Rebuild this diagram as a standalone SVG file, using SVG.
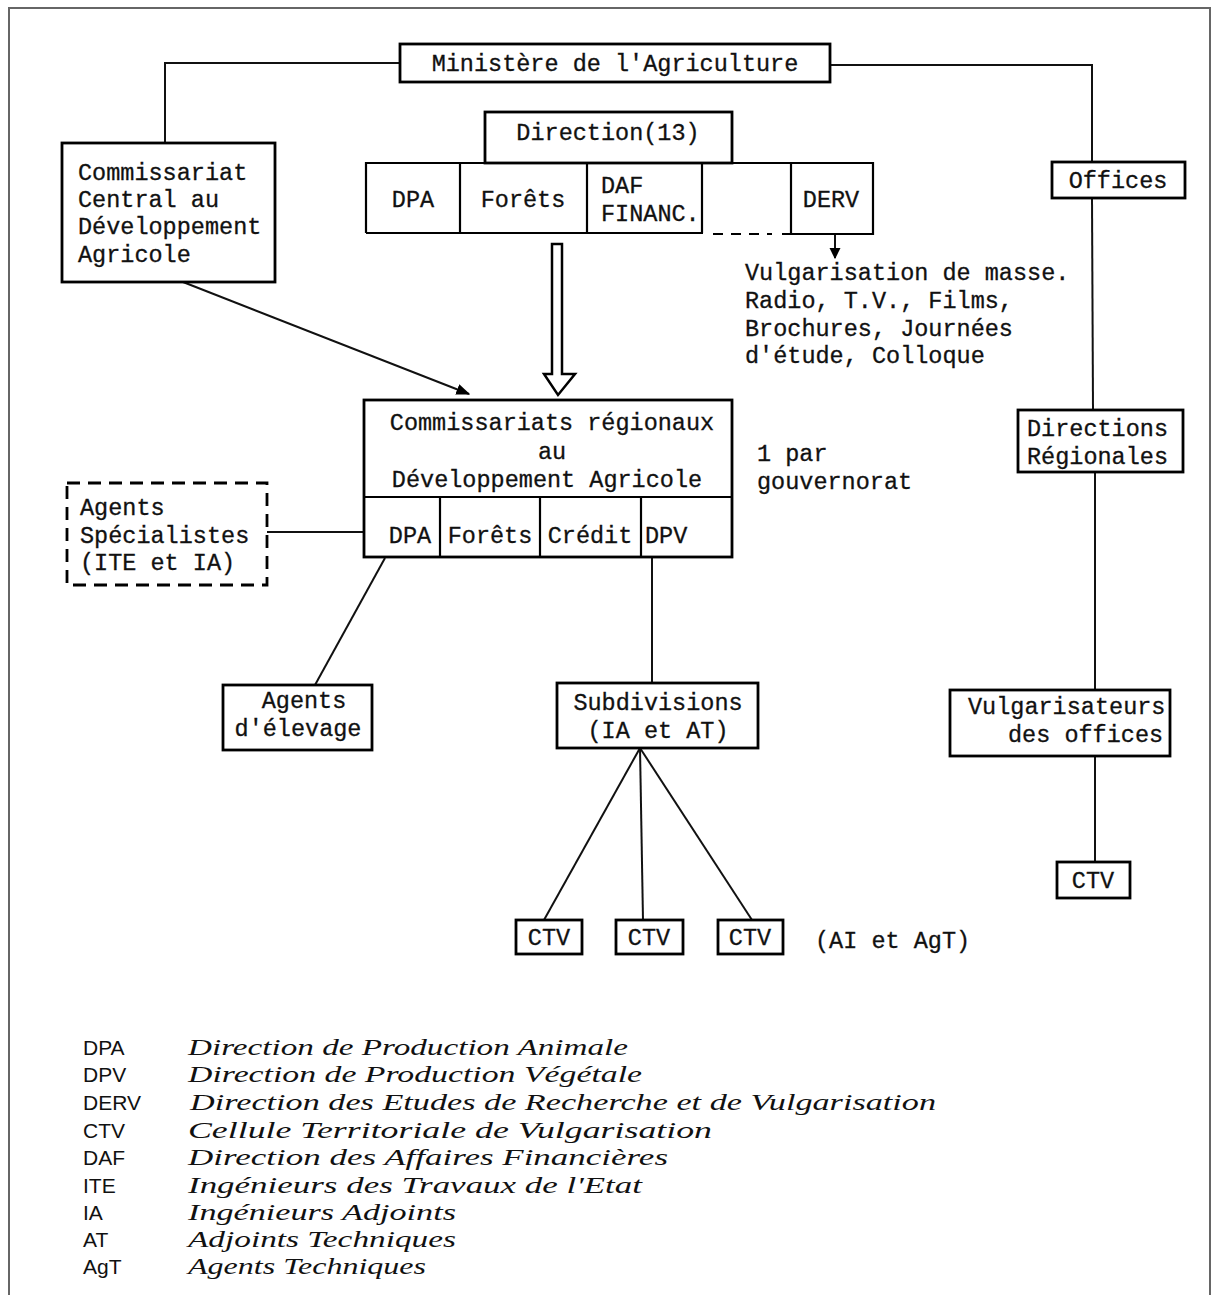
<svg xmlns="http://www.w3.org/2000/svg" width="1217" height="1295" viewBox="0 0 1217 1295">
<defs>
<marker id="ah" viewBox="0 0 10 10" refX="9" refY="5" markerWidth="11" markerHeight="12" orient="auto" markerUnits="userSpaceOnUse">
<path d="M0,0 L10,5 L0,10 z" fill="#000"/>
</marker>
<marker id="ah2" viewBox="0 0 10 10" refX="9" refY="5" markerWidth="14" markerHeight="14" orient="auto" markerUnits="userSpaceOnUse">
<path d="M0,1 L10,5 L0,9 z" fill="#000"/>
</marker>
</defs>
<style>
.box{fill:#fff;stroke:#000;stroke-width:2.8}
.div{stroke:#000;stroke-width:2.2;fill:none}
.ln{stroke:#111;stroke-width:2;fill:none}
.t{font-family:"Liberation Mono","DejaVu Sans Mono",monospace;font-size:23.5px;fill:#111;stroke:#111;stroke-width:0.3}
.c{text-anchor:middle}
.ab{font-family:"Liberation Sans","DejaVu Sans",sans-serif;font-size:21px;fill:#111}
.ds{font-family:"Liberation Serif","DejaVu Serif",serif;font-style:italic;font-size:24px;fill:#111}
</style>
<rect width="1217" height="1295" fill="#fff"/>
<path d="M9,1300 L9,8 L1210,8 L1210,1300" fill="none" stroke="#666" stroke-width="2"/>

<g id="connectors">
<path class="ln" d="M400,63 L165,63 L165,143"/>
<path class="ln" d="M830,65 L1092,65 L1092,162"/>
<path class="ln" d="M1092,198 L1093,410"/>
<path class="ln" d="M1095,472 L1095,690"/>
<path class="ln" d="M1095,756 L1095,862"/>
<line class="ln" x1="183" y1="282" x2="469" y2="394" marker-end="url(#ah2)" stroke-width="2.5"/>
<path d="M552,244 L562,244 L562,374 L575,374 L558,395 L544,374 L552,374 Z" fill="#fff" stroke="#000" stroke-width="2.5"/>
<line class="ln" x1="835" y1="234" x2="835" y2="258" marker-end="url(#ah)" stroke-width="2.5"/>
<line class="ln" x1="267" y1="532" x2="363" y2="532"/>
<line class="ln" x1="385" y1="558" x2="315" y2="685"/>
<line class="ln" x1="652" y1="558" x2="652" y2="683"/>
<line class="ln" x1="640" y1="748" x2="544" y2="920"/>
<line class="ln" x1="640" y1="748" x2="643" y2="920"/>
<line class="ln" x1="640" y1="748" x2="752" y2="920"/>
</g>

<g id="ministere">
<rect class="box" x="400" y="44" width="430" height="38"/>
<text class="t c" x="615" y="71">Ministère de l'Agriculture</text>
</g>

<g id="commissariat-central">
<rect class="box" x="62" y="143" width="213" height="139"/>
<text class="t" x="78" y="180">Commissariat</text>
<text class="t" x="78" y="207">Central au</text>
<text class="t" x="78" y="234">Développement</text>
<text class="t" x="78" y="262">Agricole</text>
</g>

<g id="direction">
<rect class="box" x="485" y="112" width="247" height="51"/>
<text class="t c" x="608" y="140">Direction(13)</text>
</g>

<g id="directions-row">
<path class="div" d="M366,233 L366,163 L873,163 L873,234 L782,234" stroke-width="2.8"/>
<path class="div" d="M366,233 L703,233" stroke-width="2.8"/>
<path class="div" d="M713,234 L772,234" stroke-dasharray="10,8" stroke-width="2.5"/>
<line class="div" x1="460" y1="163" x2="460" y2="233"/>
<line class="div" x1="587" y1="163" x2="587" y2="233"/>
<line class="div" x1="702" y1="163" x2="702" y2="233"/>
<line class="div" x1="791" y1="163" x2="791" y2="234"/>
<text class="t c" x="413" y="207">DPA</text>
<text class="t c" x="523" y="207">Forêts</text>
<text class="t" x="601" y="193">DAF</text>
<text class="t" x="601" y="221">FINANC.</text>
<text class="t c" x="831" y="207">DERV</text>
</g>

<g id="vulgarisation-masse">
<text class="t" x="745" y="280">Vulgarisation de masse.</text>
<text class="t" x="745" y="308">Radio, T.V., Films,</text>
<text class="t" x="745" y="336">Brochures, Journées</text>
<text class="t" x="745" y="363">d'étude, Colloque</text>
</g>

<g id="offices">
<rect class="box" x="1052" y="162" width="133" height="36"/>
<text class="t c" x="1118" y="188">Offices</text>
</g>

<g id="commissariats-regionaux">
<rect class="box" x="364" y="400" width="368" height="157"/>
<line class="div" x1="364" y1="497" x2="732" y2="497"/>
<line class="div" x1="440" y1="497" x2="440" y2="557"/>
<line class="div" x1="540" y1="497" x2="540" y2="557"/>
<line class="div" x1="641" y1="497" x2="641" y2="557"/>
<text class="t c" x="552" y="430">Commissariats régionaux</text>
<text class="t c" x="552" y="459">au</text>
<text class="t c" x="547" y="487">Développement Agricole</text>
<text class="t c" x="410" y="543">DPA</text>
<text class="t c" x="490" y="543">Forêts</text>
<text class="t c" x="590" y="543">Crédit</text>
<text class="t" x="645" y="543">DPV</text>
</g>

<g id="par-gouvernorat">
<text class="t" x="757" y="461">1 par</text>
<text class="t" x="757" y="489">gouvernorat</text>
</g>

<g id="agents-specialistes">
<rect x="67" y="483" width="200" height="102" fill="#fff" stroke="#000" stroke-width="2.8" stroke-dasharray="13,8"/>
<text class="t" x="80" y="515">Agents</text>
<text class="t" x="80" y="543">Spécialistes</text>
<text class="t" x="80" y="570">(ITE et IA)</text>
</g>

<g id="directions-regionales">
<rect class="box" x="1018" y="410" width="165" height="62"/>
<text class="t" x="1027" y="436">Directions</text>
<text class="t" x="1027" y="464">Régionales</text>
</g>

<g id="agents-elevage">
<rect class="box" x="223" y="685" width="149" height="65"/>
<text class="t c" x="304" y="708">Agents</text>
<text class="t c" x="298" y="736">d'élevage</text>
</g>

<g id="subdivisions">
<rect class="box" x="557" y="683" width="201" height="65"/>
<text class="t c" x="658" y="710">Subdivisions</text>
<text class="t c" x="658" y="738">(IA et AT)</text>
</g>

<g id="vulgarisateurs">
<rect class="box" x="950" y="690" width="220" height="66"/>
<text class="t" x="968" y="714">Vulgarisateurs</text>
<text class="t" x="1008" y="742">des offices</text>
</g>

<g id="ctv-offices">
<rect class="box" x="1057" y="862" width="73" height="36"/>
<text class="t c" x="1093" y="888">CTV</text>
</g>

<g id="ctv1">
<rect class="box" x="516" y="920" width="66" height="34"/>
<text class="t c" x="549" y="945">CTV</text>
</g>
<g id="ctv2">
<rect class="box" x="616" y="920" width="67" height="34"/>
<text class="t c" x="649" y="945">CTV</text>
</g>
<g id="ctv3">
<rect class="box" x="718" y="920" width="65" height="34"/>
<text class="t c" x="750" y="945">CTV</text>
</g>
<g id="ai-agt">
<text class="t" x="815" y="948">(AI et AgT)</text>
</g>

<g id="legend">
<text class="ab" x="83" y="1055">DPA</text>
<text class="ab" x="83" y="1082">DPV</text>
<text class="ab" x="83" y="1110">DERV</text>
<text class="ab" x="83" y="1138">CTV</text>
<text class="ab" x="83" y="1165">DAF</text>
<text class="ab" x="83" y="1193">ITE</text>
<text class="ab" x="83" y="1220">IA</text>
<text class="ab" x="83" y="1247">AT</text>
<text class="ab" x="83" y="1274">AgT</text>
<text class="ds" x="188" y="1055" textLength="440" lengthAdjust="spacingAndGlyphs">Direction de Production Animale</text>
<text class="ds" x="188" y="1082" textLength="454" lengthAdjust="spacingAndGlyphs">Direction de Production Végétale</text>
<text class="ds" x="190" y="1110" textLength="746" lengthAdjust="spacingAndGlyphs">Direction des Etudes de Recherche et de Vulgarisation</text>
<text class="ds" x="188" y="1138" textLength="524" lengthAdjust="spacingAndGlyphs">Cellule Territoriale de Vulgarisation</text>
<text class="ds" x="188" y="1165" textLength="480" lengthAdjust="spacingAndGlyphs">Direction des Affaires Financières</text>
<text class="ds" x="188" y="1193" textLength="454" lengthAdjust="spacingAndGlyphs">Ingénieurs des Travaux de l'Etat</text>
<text class="ds" x="188" y="1220" textLength="268" lengthAdjust="spacingAndGlyphs">Ingénieurs Adjoints</text>
<text class="ds" x="188" y="1247" textLength="268" lengthAdjust="spacingAndGlyphs">Adjoints Techniques</text>
<text class="ds" x="188" y="1274" textLength="238" lengthAdjust="spacingAndGlyphs">Agents Techniques</text>
</g>
</svg>
